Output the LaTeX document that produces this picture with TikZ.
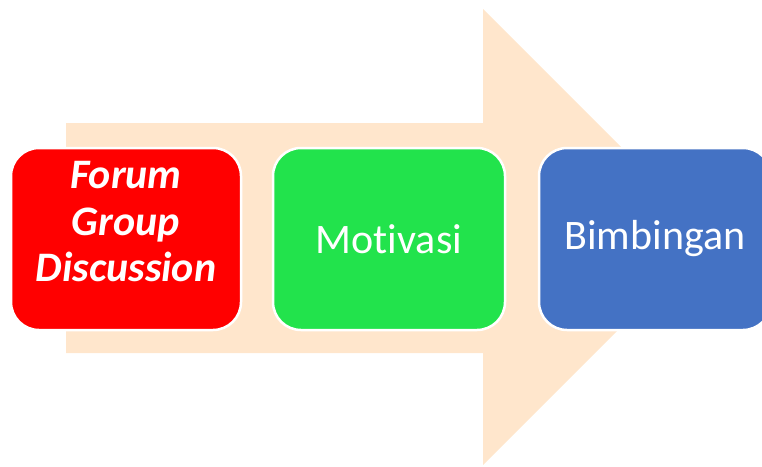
\documentclass[tikz,border=0pt]{standalone}
\usepackage{fontspec}
\setmainfont{Carlito}[Ligatures=NoCommon]
\definecolor{peach}{RGB}{255,230,204}
\definecolor{boxred}{RGB}{255,0,0}
\definecolor{boxgreen}{RGB}{34,227,76}
\definecolor{boxblue}{RGB}{68,114,196}
\begin{document}
\begin{tikzpicture}[x=1pt,y=-1pt,
  stagebox/.style={draw=white, line width=2.5pt, rounded corners=28pt,
    minimum width=232pt, minimum height=182pt, inner sep=0pt, text=white,
    font=\fontsize{42}{46}\selectfont, align=center}]
\useasboundingbox (0,0) rectangle (762,466);
\clip (0,0) rectangle (762,466);
\fill[peach] (66,123) -- (483,123) -- (483,9) -- (711,237) -- (483,465) -- (483,353) -- (66,353) -- cycle;
\node[stagebox, fill=boxred, minimum width=230pt] (fgd) at (126,239) {};
\node[font=\fontsize{42}{46.5}\selectfont\bfseries\itshape, text=white, align=center] (fgdtext) at (126,222) {Forum\\Group\\Discussion};
\node[stagebox, fill=boxgreen] (mot) at (389,239) {Motivasi};
\node[stagebox, fill=boxblue] (bim) at (655,239) {Bimbingan};
\end{tikzpicture}
\end{document}
